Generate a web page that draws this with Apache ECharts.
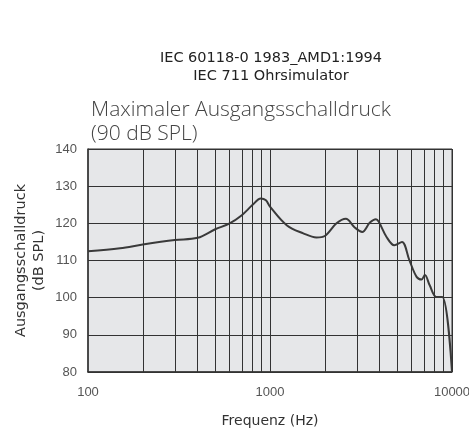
<!DOCTYPE html>
<html>
<head>
<meta charset="utf-8">
<script src="https://cdn.jsdelivr.net/npm/echarts@6/dist/echarts.min.js"></script>
<style>
  html, body { margin: 0; padding: 0; background: #fff; }
  #chart { width: 469px; height: 434px; }
</style>
</head>
<body>
<div id="chart"></div>
<script>
// Messkurve (Frequenz in Hz, Pegel in dB SPL)
var freqs = [100, 150, 200, 300, 400, 500, 600, 700, 800, 890, 950, 1000, 1235, 1524, 1800, 2000,
    2320, 2610, 2920, 3210, 3540, 3820, 3960, 4360, 4820, 5310, 5830, 6390, 6800, 7100, 7530, 8200, 8840, 10000];
var levels = [112.5, 113.3, 114.3, 115.5, 116.1, 118.4, 120, 122.2, 124.9, 126.7, 126.2, 124.5, 119.5, 117.3, 116.2, 116.6,
    120, 121.2, 118.9, 117.7, 120.2, 121.1, 120.4, 116.4, 114.1, 115, 110.1, 105.6, 104.9, 106.1, 103.4, 100.2, 100.2, 80];
// senkrechte Gitterlinien (logarithmisch)
var gridFreqs = [200, 300, 400, 500, 600, 700, 800, 900, 1000, 2000, 3000, 4000, 5000, 6000, 7000, 8000, 9000, 10000];
var yTicks = [80, 90, 100, 110, 120, 130, 140];

var lineColor = '#333';
var font = 'DejaVu Sans';
var numFont = 'Liberation Sans';

function myecharts() {
    var myChart = echarts.init(document.getElementById('chart'));
    var pts = freqs.map(function(f, i) { return [f, levels[i]]; });
    var option = {
        animation: false,
        title: [{
            text: 'IEC 60118-0 1983_AMD1:1994\nIEC 711 Ohrsimulator',
            left: 266, top: 44, textAlign: 'center',
            textStyle: { fontFamily: font, fontSize: 14.5, fontWeight: 'normal', color: '#222', lineHeight: 18, align: 'center' }
        }, {
            text: 'Maximaler Ausgangsschalldruck\n(90 dB SPL)',
            left: 86, top: 93,
            textStyle: { fontFamily: 'Open Sans', fontSize: 21, fontWeight: 300, color: '#444', lineHeight: 24 }
        }],
        grid: {
            left: 88, right: 17, top: 149, bottom: 62,
            outerBoundsMode: 'none',
            containLabel: false,
            show: true, backgroundColor: '#e6e7e9', borderColor: lineColor, borderWidth: 1
        },
        xAxis: {
            type: 'log', logBase: 10, min: 100, max: 10000,
            name: 'Frequenz (Hz)', nameLocation: 'middle', nameGap: 42,
            nameTextStyle: { fontFamily: font, fontSize: 14, color: '#333' },
            axisLine: { show: true, lineStyle: { color: lineColor, width: 1.5 } },
            axisTick: { show: false },
            axisLabel: {
                fontFamily: numFont, fontSize: 13, color: '#555', margin: 14,
                formatter: function(v) { return String(v); }
            },
            splitLine: { show: false }
        },
        yAxis: {
            type: 'value', min: yTicks[0], max: yTicks[yTicks.length - 1], interval: 10,
            name: 'Ausgangsschalldruck\n(dB SPL)', nameLocation: 'middle', nameGap: 40,
            nameMoveOverlap: false,
            nameTextStyle: { fontFamily: font, fontSize: 14.5, color: '#333', lineHeight: 18 },
            axisLine: { show: true, lineStyle: { color: lineColor, width: 1.5 } },
            axisTick: { show: false },
            axisLabel: { fontFamily: numFont, fontSize: 13, color: '#555', margin: 11 },
            splitLine: { show: true, lineStyle: { color: lineColor, width: 1 } }
        },
        series: [{
            type: 'line',
            data: pts,
            smooth: 0.35,
            symbol: 'none',
            lineStyle: { color: '#3a3a3a', width: 2 },
            z: 3,
            markLine: {
                silent: true,
                symbol: 'none',
                label: { show: false },
                lineStyle: { color: lineColor, width: 1, type: 'solid' },
                data: gridFreqs.map(function(f) { return { xAxis: f }; })
            }
        }]
    };
    myChart.setOption(option);
}
myecharts();
</script>
</body>
</html>
